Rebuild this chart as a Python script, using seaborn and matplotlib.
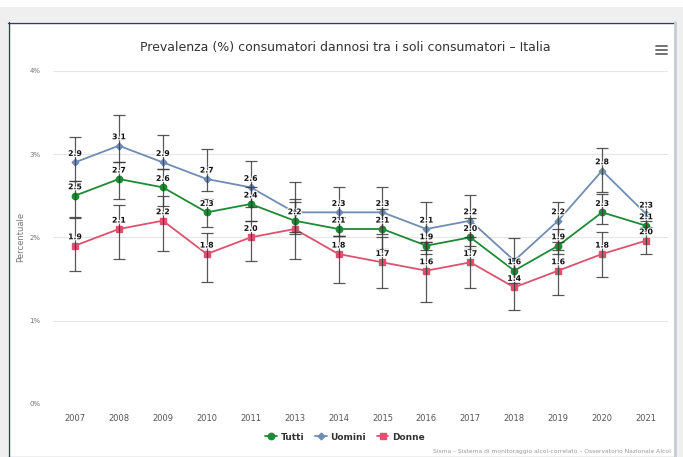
import numpy as np
import pandas as pd
import matplotlib
matplotlib.use("Agg")
import matplotlib.pyplot as plt
import matplotlib.patheffects as pe
from matplotlib.lines import Line2D
from matplotlib.patches import Rectangle
import seaborn as sns

# ---------------- data ----------------
years = ["2007", "2008", "2009", "2010", "2011", "2013", "2014",
         "2015", "2016", "2017", "2018", "2019", "2020", "2021"]

tutti = [2.5, 2.7, 2.6, 2.3, 2.4, 2.2, 2.1, 2.1, 1.9, 2.0, 1.6, 1.9, 2.3, 2.14]
uomini = [2.9, 3.1, 2.9, 2.7, 2.6, 2.3, 2.3, 2.3, 2.1, 2.2, 1.72, 2.2, 2.8, 2.28]
donne = [1.9, 2.1, 2.2, 1.8, 2.0, 2.1, 1.8, 1.7, 1.6, 1.7, 1.4, 1.6, 1.8, 1.96]

tutti_lo = [2.25, 2.46, 2.38, 2.12, 2.20, 2.04, 2.02, 1.86, 1.85, 1.86, 1.50, 1.80, 2.16, 2.08]
tutti_hi = [2.68, 2.90, 2.82, 2.46, 2.60, 2.43, 2.25, 2.34, 1.95, 2.23, 1.75, 2.10, 2.52, 2.20]
uomini_lo = [2.68, 2.90, 2.82, 2.56, 2.36, 2.06, 2.02, 2.04, 1.80, 1.90, 1.45, 1.95, 2.54, 2.12]
uomini_hi = [3.21, 3.47, 3.23, 3.06, 2.92, 2.66, 2.61, 2.60, 2.43, 2.51, 1.99, 2.43, 3.07, 2.43]
donne_lo = [1.60, 1.74, 1.84, 1.46, 1.72, 1.74, 1.45, 1.39, 1.23, 1.39, 1.13, 1.31, 1.53, 1.80]
donne_hi = [2.23, 2.39, 2.50, 2.05, 2.20, 2.46, 2.02, 2.01, 1.95, 2.01, 1.70, 1.85, 2.06, 2.10]

series_names = ["Tutti", "Uomini", "Donne"]
y_ticks = [0, 1, 2, 3, 4]
y_tick_labels = ["0%", "1%", "2%", "3%", "4%"]

title = "Prevalenza (%) consumatori dannosi tra i soli consumatori – Italia"
credits = "Sisma – Sistema di monitoraggio alcol-correlato – Osservatorio Nazionale Alcol"

# labels hidden by overlap in the original
hidden_labels = {("Uomini", "2013"), ("Donne", "2013"), ("Uomini", "2018")}

# ---------------- style ----------------
colors = {"Tutti": "#1e8a36", "Uomini": "#6f8db3", "Donne": "#de5270"}
markers = {"Tutti": "o", "Uomini": "D", "Donne": "s"}
msizes = {"Tutti": 4.6, "Uomini": 3.4, "Donne": 4.4}

sns.set_theme(style="white")
plt.rcParams["font.family"] = ["DejaVu Sans"]

W, H = 683, 457
fig = plt.figure(figsize=(W / 100, H / 100), dpi=100)
fig.patch.set_facecolor("#efefef")

def fx(px):
    return px / W

def fy(py):
    return 1 - py / H

# white strip on top
fig.add_artist(Rectangle((0, fy(7)), 1, 7 / H, transform=fig.transFigure,
                         facecolor="white", edgecolor="none", zorder=0))
# panel
fig.add_artist(Rectangle((fx(8), fy(456)), fx(675) - fx(8), fy(22) - fy(456),
                         transform=fig.transFigure, facecolor="white",
                         edgecolor="none", zorder=0))
fig.add_artist(Line2D([fx(8.5), fx(8.5)], [fy(22), fy(457)], transform=fig.transFigure,
                      color="#2f3f63", lw=1.0))
fig.add_artist(Line2D([fx(8), fx(675)], [fy(22.5), fy(22.5)], transform=fig.transFigure,
                      color="#2f3f63", lw=1.0))
fig.add_artist(Line2D([fx(675), fx(675)], [fy(22), fy(457)], transform=fig.transFigure,
                      color="#c9cbd8", lw=2.0))

ax = fig.add_axes([fx(53), fy(404), fx(668) - fx(53), fy(70.7) - fy(404)])
ax.set_facecolor("white")

pos = np.arange(len(years))
values = {"Tutti": tutti, "Uomini": uomini, "Donne": donne}
los = {"Tutti": tutti_lo, "Uomini": uomini_lo, "Donne": donne_lo}
his = {"Tutti": tutti_hi, "Uomini": uomini_hi, "Donne": donne_hi}

df = pd.concat([pd.DataFrame({"pos": pos, "anno": years, "valore": values[s], "serie": s})
                for s in series_names], ignore_index=True)

sns.lineplot(data=df, x="pos", y="valore", hue="serie", palette=colors,
             hue_order=series_names, linewidth=1.3, legend=False, ax=ax,
             zorder=3, sort=False)

for s in series_names:
    v = np.array(values[s])
    ax.plot(pos, v, linestyle="none", marker=markers[s], markersize=msizes[s],
            color=colors[s], markeredgecolor=colors[s], zorder=4)
    yerr = [v - np.array(los[s]), np.array(his[s]) - v]
    ax.errorbar(pos, v, yerr=yerr, fmt="none", ecolor="#3a3a3a", elinewidth=0.9,
                capsize=4.6, capthick=0.9, alpha=0.85, zorder=5)

for s in series_names:
    for i, val in enumerate(values[s]):
        if (s, years[i]) in hidden_labels:
            continue
        ax.annotate(f"{val:.1f}", (pos[i], val), xytext=(0, 3.2),
                    textcoords="offset points", ha="center", va="bottom",
                    fontsize=5.6, fontweight="bold", color="#111111", zorder=6,
                    path_effects=[pe.withStroke(linewidth=1.6, foreground="white")])

ax.set_xlim(-0.5, len(years) - 0.5)
ax.set_ylim(0, 4)
ax.set_xticks(pos)
ax.set_xticklabels(years)
ax.set_yticks(y_ticks)
ax.set_yticklabels(y_tick_labels)
ax.tick_params(axis="x", labelsize=6, colors="#555555", length=0, pad=7)
ax.tick_params(axis="y", labelsize=5, colors="#777777", length=0, pad=9)
ax.grid(axis="y", color="#e6e6e6", linewidth=0.8)
ax.grid(axis="x", visible=False)
for sp in ax.spines.values():
    sp.set_visible(False)
ax.set_xlabel("")
ax.set_ylabel("Percentuale", fontsize=6, color="#777777", labelpad=3)

fig.text(fx(345), fy(48), title, ha="center", va="center", fontsize=9, color="#333333")

# hamburger menu icon
for yy in (46, 50, 54):
    fig.add_artist(Line2D([fx(656), fx(667)], [fy(yy), fy(yy)], transform=fig.transFigure,
                          color="#666666", lw=1.3))

handles = [Line2D([0], [0], color=colors[s], marker=markers[s], markersize=msizes[s],
                  lw=1.3) for s in series_names]
fig.legend(handles, series_names, loc="center", bbox_to_anchor=(fx(345), fy(437)),
           ncol=3, frameon=False, prop={"size": 6.5, "weight": "bold"},
           labelcolor="#333333", handlelength=1.3, handletextpad=0.4,
           columnspacing=1.2)

fig.text(fx(671), fy(451), credits, ha="right", va="center", fontsize=4.3, color="#999999")

fig.savefig("out.png", dpi=100, facecolor=fig.get_facecolor())
